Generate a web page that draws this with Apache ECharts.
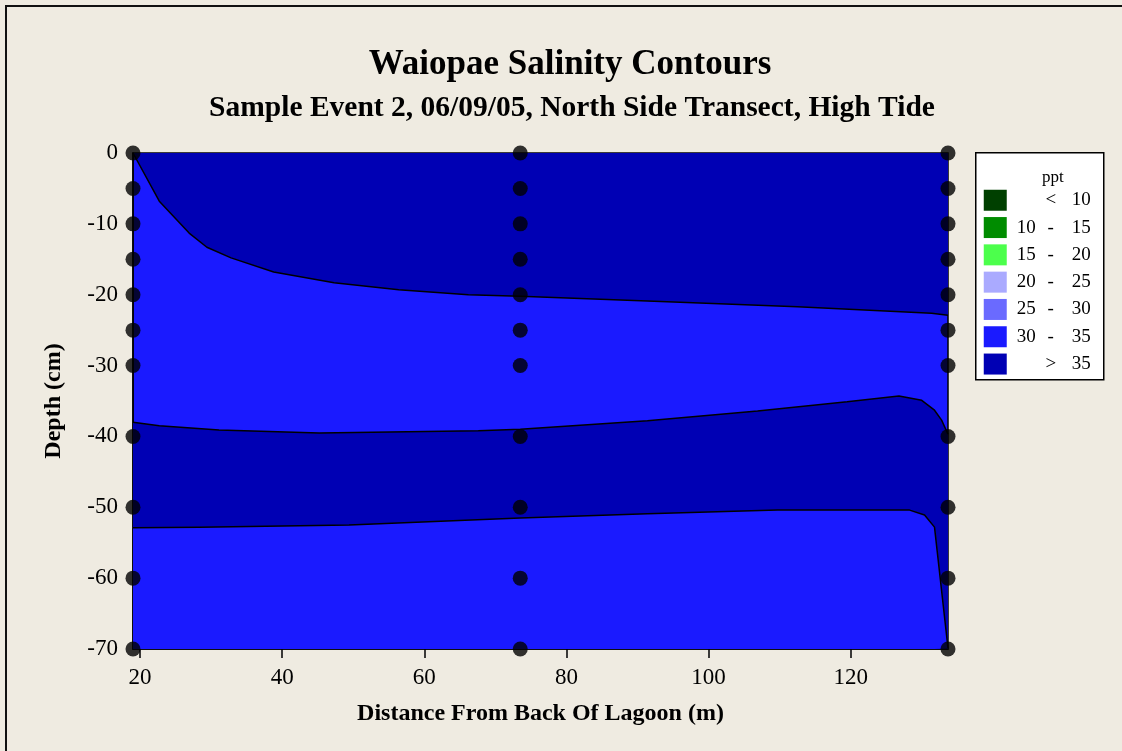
<!DOCTYPE html>
<html>
<head>
<meta charset="utf-8">
<script src="https://cdn.jsdelivr.net/npm/echarts@6/dist/echarts.min.js"></script>
<style>
html,body{margin:0;padding:0;background:#EFEBE1;}
#c{width:1122px;height:751px;}
</style>
</head>
<body>
<div id="c"></div>
<script>
// ---- data ----
var xTicks = [20, 40, 60, 80, 100, 120];
var sampleX = [19, 73.5, 133.7];
var sampleDepths = [0, -5, -10, -15, -20, -25, -30, -40, -50, -60, -70];
// contour lines [distance, depth]
var contour35Upper = [[19,0],[22.7,-6.8],[26.9,-11.3],[29.4,-13.3],[32.8,-14.8],[38.8,-16.8],[47.3,-18.3],[56.4,-19.3],[66.2,-20.0],[73.5,-20.2],[91.4,-20.9],[112.5,-21.7],[131.4,-22.6],[133.7,-22.9]];
var contour35MidTop = [[19,-38.0],[22.7,-38.5],[31.1,-39.1],[45.2,-39.5],[67.6,-39.2],[73.5,-39.0],[91.4,-37.8],[106.9,-36.4],[119.5,-35.1],[126.8,-34.3],[130.0,-34.9],[131.8,-36.3],[132.8,-37.7],[133.7,-39.7]];
var contour35MidBottom = [[19,-52.9],[28.3,-52.8],[49.4,-52.5],[73.5,-51.5],[91.4,-50.9],[109.7,-50.4],[128.3,-50.4],[130.4,-51.1],[131.8,-52.8],[133.7,-69.9]];
var legendLabels = [['', '<', '10'], ['10', '-', '15'], ['15', '-', '20'], ['20', '-', '25'], ['25', '-', '30'], ['30', '-', '35'], ['', '>', '35']];
var legendColors = ['#004000', '#008C00', '#4CFF4C', '#AAAAFF', '#6A6AFF', '#1A1AFF', '#0000B4'];

var DARK = legendColors[6], BRIGHT = legendColors[5];
var font = 'Liberation Serif';

var points = [];
sampleX.forEach(function(x){ sampleDepths.forEach(function(d){ points.push([x, d]); }); });

var chart = echarts.init(document.getElementById('c'), null, {renderer:'canvas'});

var graphics = [
  {type:'rect', shape:{x:6, y:6, width:1300, height:900}, style:{fill:'none', stroke:'#111', lineWidth:2}, z:-1}
];
// legend
var lg = {type:'group', left:975, top:152, children:[]};
lg.children.push({type:'rect', shape:{x:0, y:0, width:128, height:227}, style:{fill:'#fff', stroke:'#000', lineWidth:1.5}});
lg.children.push({type:'text', x:77, y:25, style:{text:'ppt', fontFamily:font, fontSize:17, fill:'#000', textAlign:'center', textVerticalAlign:'middle'}});
legendLabels.forEach(function(lab, i){
  var cy = 47.5 + i*27.3;
  lg.children.push({type:'rect', shape:{x:8, y:cy-10.5, width:23, height:21}, style:{fill:legendColors[i]}});
  lg.children.push({type:'text', x:60, y:cy, style:{text:lab[0], fontFamily:font, fontSize:19, fill:'#000', textAlign:'right', textVerticalAlign:'middle'}});
  lg.children.push({type:'text', x:75, y:cy, style:{text:lab[1], fontFamily:font, fontSize:19, fill:'#000', textAlign:'center', textVerticalAlign:'middle'}});
  lg.children.push({type:'text', x:115, y:cy, style:{text:lab[2], fontFamily:font, fontSize:19, fill:'#000', textAlign:'right', textVerticalAlign:'middle'}});
});
graphics.push(lg);

var lineStyle = {color:'#000', width:1.5};
var option = {
  backgroundColor:'#EFEBE1',
  animation:false,
  title:[
    {text:'Waiopae Salinity Contours', left:565, top:42, textAlign:'center',
     textStyle:{fontFamily:font, fontWeight:700, fontSize:35, color:'#000'}},
    {text:'Sample Event 2, 06/09/05, North Side Transect, High Tide', left:567, top:88, textAlign:'center',
     textStyle:{fontFamily:font, fontWeight:700, fontSize:29.5, color:'#000'}}
  ],
  grid:{left:133, top:153, width:815, height:496, show:true, backgroundColor:BRIGHT, borderColor:'#000', borderWidth:1.5},
  xAxis:{type:'value', min:19, max:133.7, position:'bottom',
    name:'Distance From Back Of Lagoon (m)', nameLocation:'middle', nameGap:53,
    nameTextStyle:{fontFamily:font, fontWeight:700, fontSize:24, color:'#000'},
    axisLine:{show:true, onZero:false, lineStyle:{color:'#000', width:1.5}},
    axisTick:{show:true, length:9, customValues:xTicks, lineStyle:{color:'#000', width:1.5}},
    axisLabel:{customValues:xTicks, margin:17, fontFamily:font, fontSize:23, color:'#000'},
    splitLine:{show:false}},
  yAxis:{type:'value', min:-70, max:0, interval:10,
    name:'Depth (cm)', nameLocation:'middle', nameGap:67, nameRotate:90,
    nameTextStyle:{fontFamily:font, fontWeight:700, fontSize:24, color:'#000'},
    axisLine:{show:true, onZero:false, lineStyle:{color:'#000', width:1.5}},
    axisTick:{show:false},
    axisLabel:{margin:15, fontFamily:font, fontSize:23, color:'#000'},
    splitLine:{show:false}},
  graphic:graphics,
  series:[
    {type:'line', data:contour35Upper, showSymbol:false, lineStyle:lineStyle,
     areaStyle:{color:DARK, opacity:1, origin:'end'}, z:2},
    {type:'line', data:contour35MidTop, showSymbol:false, lineStyle:lineStyle,
     areaStyle:{color:DARK, opacity:1, origin:'start'}, z:2},
    {type:'line', data:contour35MidBottom, showSymbol:false, lineStyle:lineStyle,
     areaStyle:{color:BRIGHT, opacity:1, origin:'start'}, z:3},
    {type:'scatter', data:points, symbol:'circle', symbolSize:15, itemStyle:{color:'#000'}, z:10, clip:false}
  ]
};
chart.setOption(option);
</script>
</body>
</html>
